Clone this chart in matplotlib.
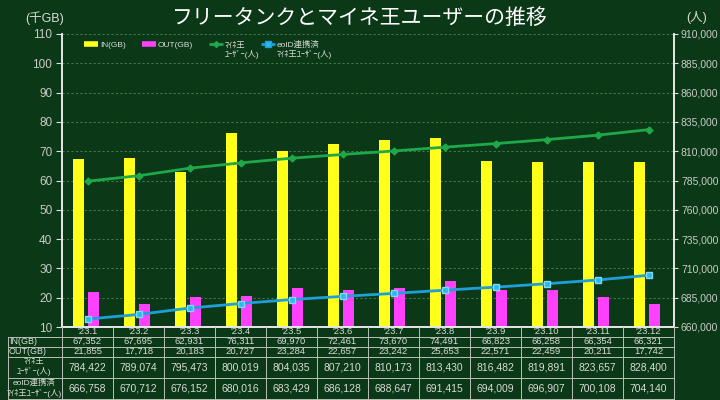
import matplotlib
matplotlib.use("Agg")
import matplotlib.pyplot as plt
import matplotlib.transforms as mtransforms
from matplotlib.lines import Line2D
from matplotlib.ticker import FuncFormatter

plt.rcParams['font.family'] = ['Liberation Sans', 'Noto Sans CJK JP', 'DejaVu Sans']

months = ["'23.1", "'23.2", "'23.3", "'23.4", "'23.5", "'23.6",
          "'23.7", "'23.8", "'23.9", "'23.10", "'23.11", "'23.12"]
in_gb = [67352, 67695, 62931, 76311, 69970, 72461, 73670, 74491, 66823, 66258, 66354, 66321]
out_gb = [21855, 17718, 20183, 20727, 23284, 22657, 23242, 25653, 22571, 22459, 20211, 17742]
users = [784422, 789074, 795473, 800019, 804035, 807210, 810173, 813430, 816482, 819891, 823657, 828400]
eo_users = [666758, 670712, 676152, 680016, 683429, 686128, 688647, 691415, 694009, 696907, 700108, 704140]

row_labels = ["IN(GB)", "OUT(GB)", "ﾏｲﾈ王\nﾕｰｻﾞｰ(人)", "eoID連携済\nﾏｲﾈ王ﾕｰｻﾞｰ(人)"]
legend_first = ["IN(GB)", "OUT(GB)", "ﾏｲﾈ王", "eoID連携済"]
legend_second = ["", "", "ﾕｰｻﾞｰ(人)", "ﾏｲﾈ王ﾕｰｻﾞｰ(人)"]
left_ticks = list(range(10, 111, 10))
right_ticks = list(range(660000, 910001, 25000))

bg = '#0b3816'
txt = '#d8dcd8'
yellow = '#ffff1a'
magenta = '#ff40ff'
green = '#1fa84a'
blue = '#1e9fd8'

W, H = 720, 400
fx = lambda px: px / W
fy = lambda py: 1 - py / H

fig = plt.figure(figsize=(7.2, 4.0), dpi=100, facecolor=bg)
ax = fig.add_axes([fx(62), fy(327), (674 - 62) / W, (327 - 34) / H])
ax.set_facecolor(bg)

x = list(range(len(months)))
bw = 0.22
ax.bar([i - 0.17 for i in x], [v / 1000 for v in in_gb], width=bw, color=yellow, zorder=2)
ax.bar([i + 0.12 for i in x], [v / 1000 for v in out_gb], width=bw, color=magenta, zorder=2)
ax.set_xlim(-0.5, len(months) - 0.5)
ax.set_ylim(10, 110)
ax.set_yticks(left_ticks)
ax.set_xticks([])
ax.grid(axis='y', color='#3f7a48', linestyle=(0, (2, 2)), linewidth=0.8, zorder=0)
ax.tick_params(axis='y', colors='#e0e0e0', labelcolor='#c8ccc8', labelsize=8.5,
               direction='out', length=4, pad=3)

ax2 = ax.twinx()
ax2.set_position(ax.get_position())
ax2.plot(x, users, color=green, linewidth=2, marker='D', markersize=3.5, zorder=3)
ax2.plot(x, eo_users, color=blue, linewidth=2, marker='s', markersize=5,
         markerfacecolor='#2cb8ec', markeredgecolor='#7fd8f8', zorder=3)
ax2.set_ylim(660000, 910000)
ax2.set_yticks(right_ticks)
ax2.yaxis.set_major_formatter(FuncFormatter(lambda v, p: f"{int(v):,}"))
ax2.tick_params(axis='y', colors='#e0e0e0', labelcolor='#c8ccc8', labelsize=7.5,
                direction='out', length=3, pad=2)

for a in (ax, ax2):
    a.spines['top'].set_visible(False)
    for s in ('left', 'right', 'bottom'):
        a.spines[s].set_color('#e8e8e8')
        a.spines[s].set_linewidth(1.2)

# legend (first line of each label; second lines added below)
handles = [
    Line2D([], [], color=yellow, linewidth=4, solid_capstyle='butt'),
    Line2D([], [], color=magenta, linewidth=4, solid_capstyle='butt'),
    Line2D([], [], color=green, linewidth=2, marker='D', markersize=3, solid_capstyle='butt'),
    Line2D([], [], color=blue, linewidth=2, marker='s', markersize=4,
           markerfacecolor='#2cb8ec', solid_capstyle='butt'),
]
leg = ax2.legend(handles, legend_first, ncol=4, loc='upper left',
                 bbox_to_anchor=(fx(80), fy(37)), bbox_transform=fig.transFigure,
                 borderpad=0, frameon=False, fontsize=6, handlelength=1.7,
                 handletextpad=0.2, columnspacing=1.9, labelcolor=txt)
fig.canvas.draw()
for t, extra in zip(leg.get_texts(), legend_second):
    if extra:
        bb = t.get_window_extent()
        fig.text(fx(bb.x0), bb.y0 / H - 0.5 / H, extra, color=txt, fontsize=6,
                 ha='left', va='top')

# titles
fig.text(0.5, fy(18), "フリータンクとマイネ王ユーザーの推移", color='white',
         fontsize=15, ha='center', va='center', family=['Noto Sans CJK JP', 'DejaVu Sans'])
fig.text(fx(45), fy(18), "(千GB)", color=txt, fontsize=9, ha='center', va='center')
fig.text(fx(697), fy(18), "(人)", color=txt, fontsize=9, ha='center', va='center')

# data table below the chart
tr = mtransforms.blended_transform_factory(ax.transData, fig.transFigure)
line_col = '#b8c0b8'
rows = [327, 336.5, 346.5, 356.5, 378, 399]
x_left, x_right = ax.get_xlim()

for py in rows[1:]:
    fig.add_artist(Line2D([fx(8), fx(62)], [fy(py), fy(py)], color=line_col, linewidth=0.7))
    fig.add_artist(Line2D([x_left, x_right], [fy(py), fy(py)], color=line_col,
                          linewidth=0.7, transform=tr))
fig.add_artist(Line2D([fx(8), fx(8)], [fy(rows[1]), fy(rows[-1])], color=line_col, linewidth=0.7))
for k in range(len(months) + 1):
    xb = x_left + k
    fig.add_artist(Line2D([xb, xb], [fy(rows[0]), fy(rows[-1])], color=line_col,
                          linewidth=0.7, transform=tr))

row_values = [
    [f"{v:,}" for v in in_gb],
    [f"{v:,}" for v in out_gb],
    [f"{v:,}" for v in users],
    [f"{v:,}" for v in eo_users],
]
row_sizes = [6.8, 6.8, 7.5, 7.5]

for i, m in enumerate(months):
    fig.text(i, fy((rows[0] + rows[1]) / 2), m, transform=tr, color=txt,
             fontsize=6.8, ha='center', va='center')
for r, vals in enumerate(row_values):
    yc = fy((rows[r + 1] + rows[r + 2]) / 2)
    for i, v in enumerate(vals):
        fig.text(i, yc, v, transform=tr, color=txt, fontsize=row_sizes[r],
                 ha='center', va='center')
    lab = row_labels[r]
    if '\n' in lab:
        fig.text(fx(34), yc, lab, color=txt, fontsize=6, ha='center', va='center',
                 linespacing=1.25)
    else:
        fig.text(fx(9), yc, lab, color=txt, fontsize=6.5, ha='left', va='center')

fig.savefig("out.png", dpi=100, facecolor=bg)
